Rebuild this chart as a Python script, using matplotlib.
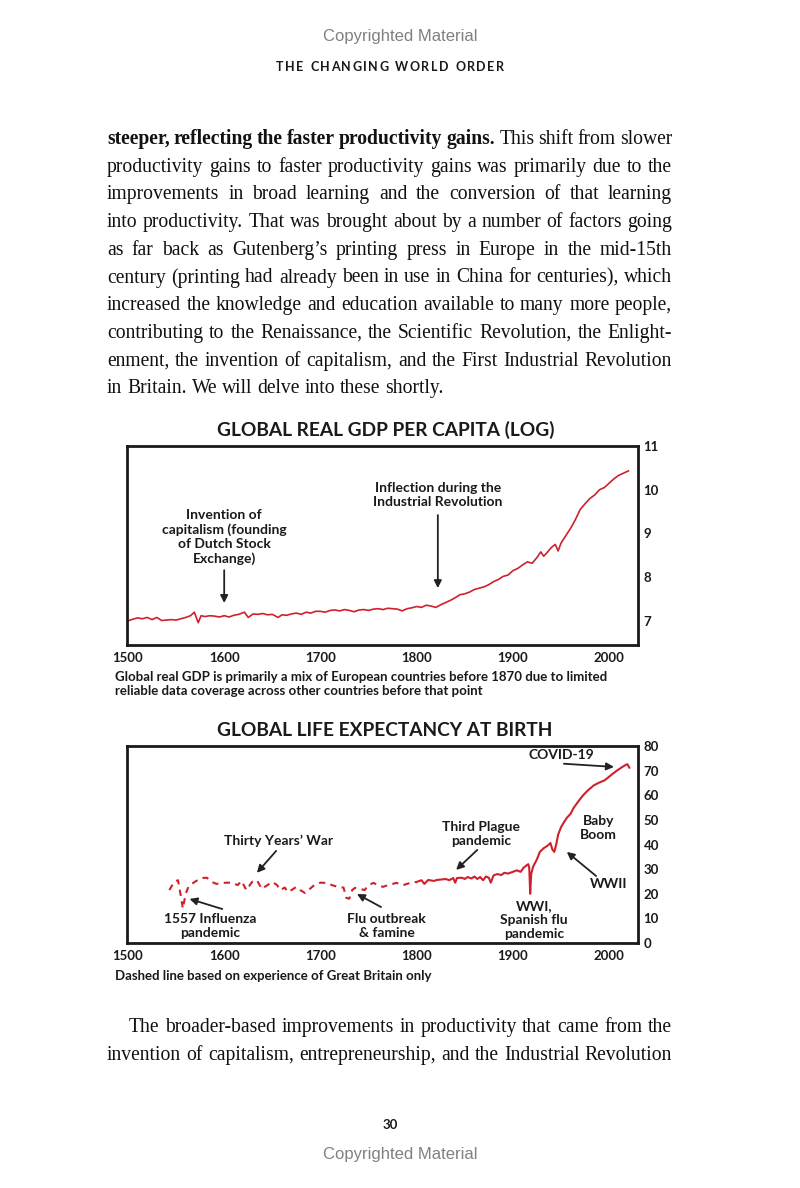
import matplotlib
matplotlib.use("Agg")
import numpy as np
import matplotlib.pyplot as plt

W, H = 800, 1188
SERIF = "Liberation Serif"
SANS = "Lato"
RED = "#d0202e"
INK = "#1a1a1a"

#~~~~~~~~ GDP per capita (log) ~~~~~~~~
gdp_year = [1500, 1505, 1510, 1515, 1520, 1525, 1530, 1535, 1540, 1545, 1550, 1555,
            1560, 1565, 1569, 1573, 1576, 1580, 1585, 1590, 1595, 1600, 1605, 1610,
            1615, 1621, 1625, 1630, 1635, 1640, 1645, 1650, 1656, 1660, 1665, 1670,
            1675, 1680, 1685, 1690, 1695, 1700, 1705, 1710, 1715, 1720, 1725, 1730,
            1735, 1740, 1745, 1750, 1755, 1760, 1765, 1770, 1775, 1780, 1785, 1790,
            1795, 1800, 1805, 1810, 1815, 1820, 1825, 1830, 1835, 1840, 1845, 1850,
            1855, 1860, 1865, 1870, 1875, 1880, 1885, 1890, 1895, 1900, 1905, 1910,
            1915, 1920, 1925, 1929, 1932, 1935, 1940, 1944, 1947, 1950, 1955, 1960,
            1965, 1970, 1975, 1980, 1985, 1990, 1995, 2000, 2005, 2010, 2015, 2020]
gdp_log = [7.00, 7.04, 7.07, 7.05, 7.08, 7.03, 7.08, 7.01, 7.02, 7.03, 7.02, 7.05,
           7.08, 7.12, 7.20, 6.96, 7.12, 7.10, 7.12, 7.11, 7.09, 7.12, 7.09, 7.13,
           7.15, 7.20, 7.08, 7.16, 7.15, 7.17, 7.14, 7.15, 7.08, 7.14, 7.13, 7.16,
           7.18, 7.15, 7.20, 7.18, 7.22, 7.22, 7.20, 7.24, 7.25, 7.23, 7.26, 7.24,
           7.21, 7.25, 7.26, 7.24, 7.27, 7.28, 7.26, 7.29, 7.28, 7.27, 7.23, 7.28,
           7.30, 7.33, 7.31, 7.36, 7.34, 7.31, 7.37, 7.42, 7.47, 7.53, 7.60, 7.62,
           7.66, 7.72, 7.75, 7.78, 7.83, 7.90, 7.95, 8.02, 8.05, 8.15, 8.20, 8.28,
           8.35, 8.32, 8.45, 8.58, 8.48, 8.55, 8.68, 8.75, 8.60, 8.78, 8.95, 9.12,
           9.32, 9.55, 9.68, 9.80, 9.88, 10.00, 10.05, 10.15, 10.25, 10.33, 10.38, 10.43]

#~~~~~~~~ life expectancy, dashed part (Great Britain) ~~~~~~~~
le_gb_year = [1543, 1548, 1552, 1555, 1557, 1560, 1563, 1570, 1577, 1582, 1587, 1592,
              1598, 1604, 1609, 1614, 1618, 1623, 1629, 1634, 1639, 1645, 1650, 1655,
              1658, 1663, 1666, 1670, 1675, 1679, 1684, 1689, 1694, 1700, 1707, 1712,
              1718, 1724, 1727, 1730, 1733, 1736, 1741, 1746, 1750, 1755, 1760, 1765,
              1770, 1779, 1786, 1793, 1800]
le_gb = [21.5, 24.8, 25.5, 19.0, 14.0, 20.0, 23.0, 25.0, 26.4, 26.5, 24.8, 24.0,
         24.4, 24.5, 24.4, 23.5, 25.2, 21.5, 24.8, 25.5, 22.0, 23.5, 24.8, 23.5,
         21.5, 22.5, 20.7, 21.5, 22.8, 21.5, 20.3, 22.0, 23.6, 24.5, 24.4, 23.5,
         22.8, 22.5, 18.3, 18.0, 21.5, 22.4, 22.0, 21.5, 23.5, 24.4, 23.5, 22.8,
         23.5, 24.4, 23.5, 24.4, 24.8]

#~~~~~~~~ life expectancy, solid part (global) ~~~~~~~~
le_year = [1800, 1805, 1808, 1812, 1818, 1821, 1826, 1830, 1834, 1838, 1840, 1842,
           1847, 1850, 1853, 1857, 1860, 1863, 1866, 1869, 1872, 1875, 1877, 1880,
           1884, 1888, 1891, 1895, 1900, 1904, 1908, 1911, 1914, 1916, 1917, 1918,
           1919, 1921, 1925, 1928, 1932, 1936, 1939, 1941, 1943, 1945, 1947, 1950,
           1953, 1956, 1960, 1963, 1968, 1973, 1978, 1984, 1990, 1995, 1998, 2003,
           2008, 2013, 2017, 2019, 2021]
le_val = [24.8, 25.5, 24.0, 25.6, 25.2, 25.6, 25.8, 26.0, 25.5, 26.4, 24.5, 26.4,
          26.5, 26.0, 26.8, 26.2, 27.0, 26.0, 26.8, 25.5, 27.0, 26.5, 24.5, 27.5,
          28.0, 27.6, 28.5, 28.2, 28.9, 29.5, 28.9, 30.5, 31.5, 32.0, 30.5, 20.0,
          28.0, 31.0, 34.0, 37.0, 38.5, 39.5, 40.6, 38.0, 37.0, 40.0, 44.0, 47.0,
          49.0, 50.8, 52.5, 54.8, 57.5, 60.0, 62.0, 64.0, 65.2, 66.0, 66.9, 68.5,
          70.0, 71.3, 72.3, 72.6, 71.2]

year_ticks = [1500, 1600, 1700, 1800, 1900, 2000]
gdp_ticks = [7, 8, 9, 10, 11]
le_ticks = [0, 10, 20, 30, 40, 50, 60, 70, 80]

body_top = [
    "**steeper, reflecting the faster productivity gains.** This shift from slower",
    "productivity gains to faster productivity gains was primarily due to the",
    "improvements in broad learning and the conversion of that learning",
    "into productivity. That was brought about by a number of factors going",
    "as far back as Gutenberg\u2019s printing press in Europe in the mid-15th",
    "century (printing had already been in use in China for centuries), which",
    "increased the knowledge and education available to many more people,",
    "contributing to the Renaissance, the Scientific Revolution, the Enlight-",
    "enment, the invention of capitalism, and the First Industrial Revolution",
    "in Britain. We will delve into these shortly.",
]
body_bottom = [
    "The broader-based improvements in productivity that came from the",
    "invention of capitalism, entrepreneurship, and the Industrial Revolution",
]


fig = plt.figure(figsize=(W / 100, H / 100), dpi=100)
fig.patch.set_facecolor("white")
rend = fig.canvas.get_renderer()


def fx(x, y):
    return x / W, 1 - y / H


def words_of(line):
    # split a line into (word, bold) pairs, ** toggles bold
    out = []
    bold = False
    for w in line.split(" "):
        b = bold
        if w.startswith("**"):
            w = w[2:]; b = True; bold = True
        if w.endswith("**"):
            w = w[:-2]; bold = False
        out.append((w, b))
    return out


def put_line(line, x0, x1, y, size=14.1, justify=True):
    texts = []
    for w, b in words_of(line):
        t = fig.text(0, 0, w, fontsize=size, family=SERIF,
                     weight="bold" if b else "normal", va="baseline", color="#111")
        texts.append(t)
    widths = [t.get_window_extent(rend).width for t in texts]
    if justify and len(texts) > 1:
        gap = (x1 - x0 - sum(widths)) / (len(texts) - 1)
    else:
        gap = size * 0.25 * 100 / 72
    x = x0
    for t, w in zip(texts, widths):
        t.set_position(fx(x, y))
        x += w + gap


def tracked(s, xc, y, size, track, **kw):
    texts, widths = [], []
    for ch in s:
        t = fig.text(0, 0, ch, fontsize=size, va="baseline", **kw)
        texts.append(t)
        widths.append(size * 0.3 * 100 / 72 if ch == " " else t.get_window_extent(rend).width)
    total = sum(widths) + track * (len(s) - 1)
    x = xc - total / 2
    for t, w in zip(texts, widths):
        t.set_position(fx(x, y))
        x += w + track


# page furniture
fig.text(*fx(400, 36), "Copyrighted Material", ha="center", va="center",
         family="Liberation Sans", fontsize=12, color="#808080")
fig.text(*fx(400, 1154), "Copyrighted Material", ha="center", va="center",
         family="Liberation Sans", fontsize=12, color="#808080")
tracked("THE CHANGING WORLD ORDER", 390, 71, 9, 1.5, family=SANS, weight="bold", color=INK)
fig.text(*fx(390, 1125), "30", ha="center", va="center", family=SANS,
         weight="bold", fontsize=9.5, color=INK)

# body text
base = 144
for i, line in enumerate(body_top):
    put_line(line, 107, 672, base + i * 27.7, justify=(i < len(body_top) - 1))
put_line(body_bottom[0], 129, 672, 1032)
put_line(body_bottom[1], 107, 672, 1060)


def style_axes(ax, ticks):
    for s in ax.spines.values():
        s.set_linewidth(2.0)
        s.set_color(INK)
    ax.set_xlim(1499, 2030)
    ax.set_xticks(year_ticks)
    ax.yaxis.tick_right()
    ax.set_yticks(ticks)
    ax.tick_params(length=0, labelsize=9.5, colors=INK)
    ax.tick_params(axis="x", pad=5)
    ax.tick_params(axis="y", pad=4)
    for lab in ax.get_xticklabels() + ax.get_yticklabels():
        lab.set_fontfamily(SANS)
        lab.set_fontweight("bold")


arrow = dict(arrowstyle="-|>", color="#222", lw=1.3, mutation_scale=11, shrinkA=0, shrinkB=0)
afont = dict(family=SANS, weight="bold", fontsize=10, color=INK, ha="center", va="center",
             linespacing=1.22)

#~~~~~~~~ GDP chart ~~~~~~~~
ax1 = fig.add_axes([127 / W, 1 - 645 / H, 511 / W, 199 / H])
ax1.plot(gdp_year, gdp_log, color=RED, lw=1.2)
ax1.set_ylim(6.45, 11.0)
style_axes(ax1, gdp_ticks)
fig.text(*fx(386, 430), "GLOBAL REAL GDP PER CAPITA (LOG)", ha="center", va="center",
         family=SANS, weight="bold", fontsize=13.8, color=INK)
ax1.text(1600, 8.92, "Invention of\ncapitalism (founding\nof Dutch Stock\nExchange)", **afont)
ax1.annotate("", xy=(1600, 7.41), xytext=(1600, 8.16), arrowprops=arrow)
ax1.text(1822, 9.88, "Inflection during the\nIndustrial Revolution", **afont)
ax1.annotate("", xy=(1822, 7.75), xytext=(1822, 9.42), arrowprops=arrow)
fig.text(*fx(115, 684), "Global real GDP is primarily a mix of European countries before 1870 due to limited\n"
         "reliable data coverage across other countries before that point",
         ha="left", va="center", family=SANS, weight="bold", fontsize=9.5, color=INK,
         linespacing=1.15)

#~~~~~~~~ life expectancy chart ~~~~~~~~
ax2 = fig.add_axes([127 / W, 1 - 943 / H, 511 / W, 197 / H])
ax2.plot(le_gb_year, le_gb, color=RED, lw=1.5, ls=(0, (3, 2.6)))
ax2.plot(le_year, le_val, color=RED, lw=1.5)
ax2.set_ylim(0, 80)
style_axes(ax2, le_ticks)
fig.text(*fx(385, 730), "GLOBAL LIFE EXPECTANCY AT BIRTH", ha="center", va="center",
         family=SANS, weight="bold", fontsize=13.8, color=INK)

ax2.text(1950, 76.2, "COVID-19", **afont)
ax2.annotate("", xy=(2005, 71.5), xytext=(1953, 72.8), arrowprops=arrow)
ax2.text(1989, 46.7, "Baby\nBoom", **afont)
ax2.text(1999, 24.0, "WWII", **afont)
ax2.annotate("", xy=(1956, 37.0), xytext=(1986.5, 27.2), arrowprops=arrow)
ax2.text(1867, 44.3, "Third Plague\npandemic", **afont)
ax2.annotate("", xy=(1841, 29.7), xytext=(1863, 37.8), arrowprops=arrow)
ax2.text(1657, 41.5, "Thirty Years\u2019 War", **afont)
ax2.annotate("", xy=(1634, 28.5), xytext=(1654, 37.4), arrowprops=arrow)
ax2.text(1585, 6.9, "1557 Influenza\npandemic", **afont)
ax2.annotate("", xy=(1564, 17.9), xytext=(1598, 13.8), arrowprops=arrow)
ax2.text(1769, 6.9, "Flu outbreak\n& famine", **afont)
ax2.annotate("", xy=(1738, 19.9), xytext=(1763, 14.6), arrowprops=arrow)
ax2.text(1922, 9.3, "WWI,\nSpanish flu\npandemic", **afont)
fig.text(*fx(115, 976), "Dashed line based on experience of Great Britain only",
         ha="left", va="center", family=SANS, weight="bold", fontsize=9.5, color=INK)

fig.savefig("out.png", dpi=100, facecolor="white")
